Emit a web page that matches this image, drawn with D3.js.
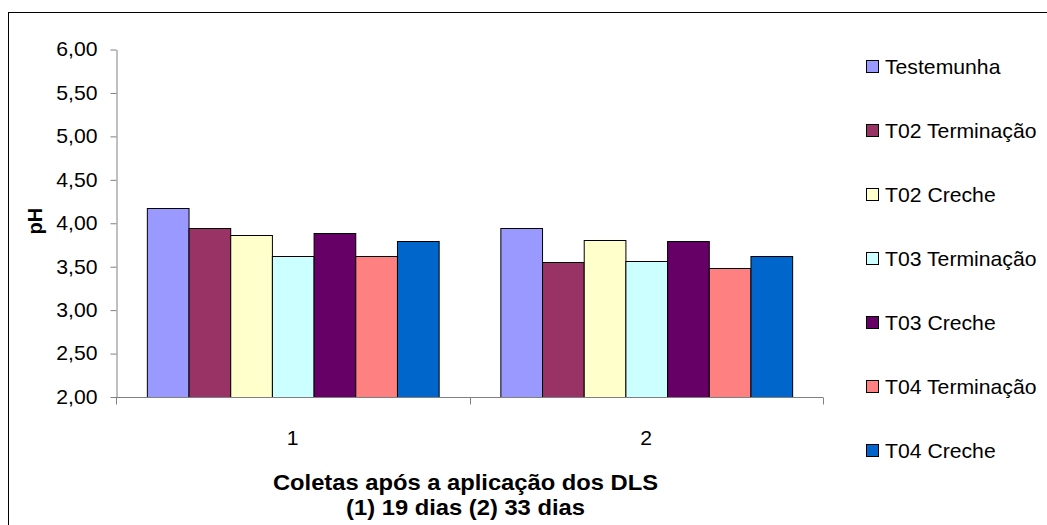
<!DOCTYPE html>
<html>
<head>
<meta charset="utf-8">
<script src="https://cdn.jsdelivr.net/npm/d3@7"></script>
<style>
  html, body { margin: 0; padding: 0; background: #fff; }
  svg { display: block; font-family: "Liberation Sans", Arial, sans-serif; }
</style>
</head>
<body>
<svg id="chart" width="1047" height="525"></svg>
<script>
// pH measured after DLS application, per treatment and sampling date
const categories = ["1", "2"];
const seriesNames = [
  "Testemunha", "T02 Terminação", "T02 Creche", "T03 Terminação",
  "T03 Creche", "T04 Terminação", "T04 Creche"
];
const testemunha     = [4.18, 3.95];
const t02Terminacao  = [3.95, 3.55];
const t02Creche      = [3.86, 3.81];
const t03Terminacao  = [3.62, 3.57];
const t03Creche      = [3.89, 3.79];
const t04Terminacao  = [3.62, 3.48];
const t04Creche      = [3.80, 3.62];
const seriesValues = [testemunha, t02Terminacao, t02Creche, t03Terminacao,
                      t03Creche, t04Terminacao, t04Creche];
const colors = ["#9999FF", "#993366", "#FFFFCC", "#CCFFFF", "#660066", "#FF8080", "#0066CC"];
const yTicks = [2.0, 2.5, 3.0, 3.5, 4.0, 4.5, 5.0, 5.5, 6.0];
const xTitle = ["Coletas após a aplicação dos DLS", "(1) 19 dias (2) 33 dias"];
const yTitle = "pH";

const svg = d3.select("#chart");
const plot = { left: 116, right: 823, top: 49.5, bottom: 397 };
const stretch = 1.06; // slightly wide text rendering

// chart frame
svg.append("rect")
  .attr("x", 8.5).attr("y", 12.5)
  .attr("width", 1100).attr("height", 600)
  .attr("fill", "none").attr("stroke", "#000").attr("stroke-width", 1);

const y = d3.scaleLinear().domain([2, 6]).range([plot.bottom, plot.top]);
const x0 = d3.scaleBand().domain(categories).range([plot.left, plot.right]).paddingInner(0).paddingOuter(0);
const x1 = d3.scaleBand().domain(seriesNames).range([0, x0.bandwidth()]).paddingInner(0).paddingOuter(0.74);

const fmt = v => d3.format(".2f")(v).replace(".", ",");

// bars
const groups = svg.append("g").selectAll("g")
  .data(categories)
  .join("g")
  .attr("transform", c => `translate(${x0(c)},0)`);

groups.selectAll("rect")
  .data((c, ci) => seriesNames.map((s, si) => ({ s, si, v: seriesValues[si][ci] })))
  .join("rect")
  .attr("x", d => x1(d.s) + 0.5)
  .attr("y", d => Math.round(y(d.v)) + 0.5)
  .attr("width", x1.bandwidth())
  .attr("height", d => plot.bottom - Math.round(y(d.v)))
  .attr("fill", d => colors[d.si])
  .attr("stroke", "#000")
  .attr("stroke-width", 1);

// y axis
const yAxis = svg.append("g")
  .attr("transform", `translate(${plot.left + 0.5},0)`)
  .call(d3.axisLeft(y).tickValues(yTicks).tickFormat(fmt).tickSize(6).tickSizeOuter(0).tickPadding(13));
yAxis.select(".domain").attr("stroke", "#808080");
yAxis.selectAll(".tick line").attr("stroke", "#808080");
yAxis.selectAll(".tick text")
  .attr("font-size", 20).attr("fill", "#000")
  .attr("font-family", "Liberation Sans, Arial, sans-serif")
  .attr("transform", function () {
    const xx = +d3.select(this).attr("x");
    return `translate(${xx},0) scale(${stretch},1) translate(${-xx},0)`;
  });

// x axis line and category boundary ticks
const xAxisG = svg.append("g").attr("transform", `translate(0,${plot.bottom + 0.5})`);
xAxisG.append("line")
  .attr("x1", plot.left).attr("x2", plot.right)
  .attr("stroke", "#808080");
const boundaries = categories.map(c => x0(c)).concat([x0(categories[categories.length - 1]) + x0.bandwidth()]);
xAxisG.selectAll("line.tick")
  .data(boundaries)
  .join("line")
  .attr("class", "tick")
  .attr("x1", d => Math.round(d) + 0.5).attr("x2", d => Math.round(d) + 0.5)
  .attr("y1", 0).attr("y2", 7)
  .attr("stroke", "#808080");
xAxisG.selectAll("text")
  .data(categories)
  .join("text")
  .attr("transform", c => `translate(${x0(c) + x0.bandwidth() / 2},47) scale(${stretch},1)`)
  .attr("text-anchor", "middle")
  .attr("font-size", 20)
  .text(c => c);

// axis titles
const cx = (plot.left + plot.right) / 2 - 4;
svg.append("g").selectAll("text")
  .data(xTitle)
  .join("text")
  .attr("transform", (t, i) => `translate(${cx},${490 + i * 25}) scale(1.08,1)`)
  .attr("text-anchor", "middle")
  .attr("font-size", 22)
  .attr("font-weight", "bold")
  .text(t => t);

svg.append("text")
  .attr("transform", `translate(42,${(plot.top + plot.bottom) / 2 - 2}) rotate(-90)`)
  .attr("text-anchor", "middle")
  .attr("font-size", 20)
  .attr("font-weight", "bold")
  .text(yTitle);

// legend
const legend = svg.append("g").selectAll("g")
  .data(seriesNames)
  .join("g")
  .attr("transform", (s, i) => `translate(866,${67 + i * 64})`);
legend.append("rect")
  .attr("x", 0.5).attr("y", -6.5)
  .attr("width", 12).attr("height", 12)
  .attr("fill", (s, i) => colors[i])
  .attr("stroke", "#000");
legend.append("text")
  .attr("transform", `translate(19,7) scale(${stretch},1)`)
  .attr("font-size", 20)
  .text(s => s);
</script>
</body>
</html>
